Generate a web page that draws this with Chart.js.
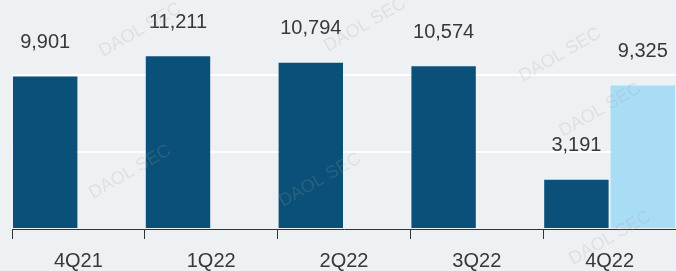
<!DOCTYPE html>
<html><head><meta charset="utf-8">
<script src="https://cdn.jsdelivr.net/npm/chart.js@4/dist/chart.umd.min.js"></script>
<style>html,body{margin:0;padding:0;background:#eef1f4;}#wrap{width:676px;height:271px;}</style>
</head><body><div id="wrap"><canvas id="c"></canvas></div>
<script>
const categories = ["4Q21","1Q22","2Q22","3Q22","4Q22"];
const actualValues = [9901, 11211, 10794, 10574, 3191];
const consensusValues = [null, null, null, null, 9325];
const yTicks = [0, 5000, 10000];

const labelPlugin = {
  id: 'lbl',
  afterDatasetsDraw(chart) {
    const ctx = chart.ctx;
    ctx.save();
    ctx.font = '20px "Liberation Sans", Arial, sans-serif';
    ctx.fillStyle = '#383838';
    ctx.textAlign = 'center';
    ctx.textBaseline = 'middle';
    chart.data.datasets.forEach((ds, di) => {
      chart.getDatasetMeta(di).data.forEach((bar, i) => {
        const v = ds.data[i];
        if (v == null) return;
        ctx.fillText(v.toLocaleString('en-US'), bar.x, bar.y - 34);
      });
    });
    ctx.restore();
  },
  afterDraw(chart) {
    const ctx = chart.ctx;
    ctx.save();
    ctx.font = '18px "Liberation Sans", Arial, sans-serif';
    ctx.fillStyle = 'rgba(160,160,160,0.2)';
    ctx.textAlign = 'center';
    ctx.textBaseline = 'middle';
    [[140,30],[365,25],[560,55],[600,110],[130,172],[320,180],[610,238]].forEach(p => {
      ctx.save();
      ctx.translate(p[0], p[1]);
      ctx.rotate(-Math.PI / 6);
      ctx.fillText('DAOL SEC', 0, 0);
      ctx.restore();
    });
    ctx.restore();
  }
};

new Chart(document.getElementById('c'), {
  type: 'bar',
  data: {
    labels: categories,
    datasets: [
      { data: actualValues, backgroundColor: '#0b5078', categoryPercentage: 1, barPercentage: 0.97 },
      { data: consensusValues, backgroundColor: '#a9dcf5', categoryPercentage: 1, barPercentage: 0.97 }
    ]
  },
  options: {
    responsive: true, maintainAspectRatio: false, animation: false,
    layout: { padding: { left: 12, right: 0, top: 0, bottom: 0 } },
    plugins: { legend: { display: false }, tooltip: { enabled: false } },
    scales: {
      x: {
        offset: true,
        afterFit(axis) { axis.height = 42; },
        grid: { offset: true, drawOnChartArea: false, drawTicks: true, tickLength: 10, color: '#333333', lineWidth: 1 },
        border: { display: true, color: '#333333', width: 1 },
        ticks: { color: '#383838', font: { family: '"Liberation Sans", Arial, sans-serif', size: 20 }, padding: 10, maxRotation: 0 }
      },
      y: {
        min: 0, max: 14870,
        afterBuildTicks(axis) { axis.ticks = yTicks.map(v => ({ value: v })); },
        ticks: { display: false },
        border: { display: false },
        grid: { drawTicks: false, color: (c) => c.tick && c.tick.value === 0 ? 'rgba(0,0,0,0)' : '#ffffff', lineWidth: 2 }
      }
    }
  },
  plugins: [labelPlugin]
});
</script></body></html>
